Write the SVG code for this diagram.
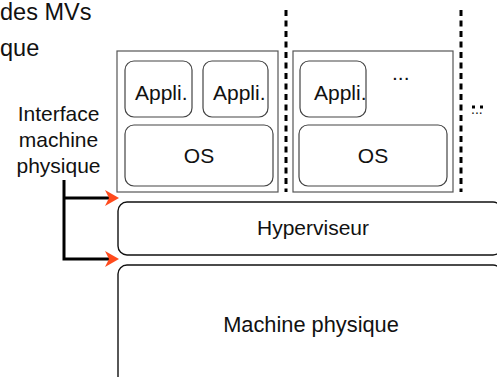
<svg xmlns="http://www.w3.org/2000/svg" width="497" height="377" viewBox="0 0 497 377">
  <defs>
    <marker id="arr" markerUnits="userSpaceOnUse" markerWidth="14" markerHeight="16" refX="4" refY="8" orient="auto" overflow="visible">
      <path d="M0,0 L14,8 L0,16 L4,8 Z" fill="#ff4a1c"/>
    </marker>
  </defs>
  <style>
    text { font-family: "Liberation Sans", Arial, Helvetica, sans-serif; fill: #111; }
    .vm { fill: #fff; stroke: #555; stroke-width: 1.2; }
    .rr { fill: #fff; stroke: #444; stroke-width: 1.2; }
    .big { fill: #fff; stroke: #111; stroke-width: 1.4; }
    .sep { stroke: #000; stroke-width: 3; stroke-dasharray: 6 4.5; fill: none; }
    .conn { stroke: #000; stroke-width: 3; fill: none; }
    .t20 { font-size: 21px; }
    .t24 { font-size: 23.5px; }
  </style>

  <!-- top texts (cut off) -->
  <g id="title">
    <text class="t24" x="0" y="20">des MVs</text>
    <text class="t24" x="0" y="56">que</text>
  </g>

  <!-- separators -->
  <g id="separators">
    <line class="sep" x1="286" y1="10" x2="286" y2="192"/>
    <line class="sep" x1="461" y1="10" x2="461" y2="192"/>
  </g>

  <!-- VM 1 -->
  <g id="vm1">
    <rect class="vm" x="117" y="51" width="161" height="141"/>
    <g id="app1">
      <rect class="rr" x="125" y="61" width="67" height="56" rx="9"/>
      <text class="t20" x="135" y="100">Appli.</text>
    </g>
    <g id="app2">
      <rect class="rr" x="203" y="61" width="65" height="56" rx="9"/>
      <text class="t20" x="213" y="100">Appli.</text>
    </g>
    <g id="os1">
      <rect class="rr" x="125" y="125" width="148" height="61" rx="9"/>
      <text class="t20" x="199" y="163" text-anchor="middle">OS</text>
    </g>
  </g>

  <!-- VM 2 -->
  <g id="vm2">
    <rect class="vm" x="293" y="51" width="160" height="141"/>
    <g id="app3">
      <rect class="rr" x="300" y="61" width="66" height="56" rx="9"/>
      <text class="t20" x="314" y="100">Appli.</text>
    </g>
    <text class="t20" x="392" y="80">...</text>
    <g id="os2">
      <rect class="rr" x="299" y="125" width="148" height="61" rx="9"/>
      <text class="t20" x="373" y="163" text-anchor="middle">OS</text>
    </g>
  </g>

  <!-- more VMs mark -->
  <g id="more">
    <line x1="472" y1="107" x2="486" y2="107" stroke="#000" stroke-width="3" stroke-dasharray="3 5"/>
    <text x="471" y="114" font-size="14px">...</text>
  </g>

  <!-- Hyperviseur -->
  <g id="hyperviseur">
    <rect class="big" x="118" y="202" width="384" height="53" rx="9"/>
    <text class="t20" x="313" y="235" text-anchor="middle">Hyperviseur</text>
  </g>

  <!-- Machine physique -->
  <g id="machine">
    <rect class="big" x="118" y="265" width="384" height="130" rx="9"/>
    <text x="311" y="332" font-size="21.8px" text-anchor="middle">Machine physique</text>
  </g>

  <!-- Interface label -->
  <g id="interface">
    <text class="t20" x="58.5" y="121" text-anchor="middle">Interface</text>
    <text class="t20" x="58.5" y="147" text-anchor="middle">machine</text>
    <text class="t20" x="58.5" y="173" text-anchor="middle">physique</text>
  </g>

  <!-- connectors -->
  <g id="connectors">
    <polyline class="conn" points="64,180 64,259 109,259" marker-end="url(#arr)"/>
    <polyline class="conn" points="64,198 109,198" marker-end="url(#arr)"/>
  </g>
</svg>
